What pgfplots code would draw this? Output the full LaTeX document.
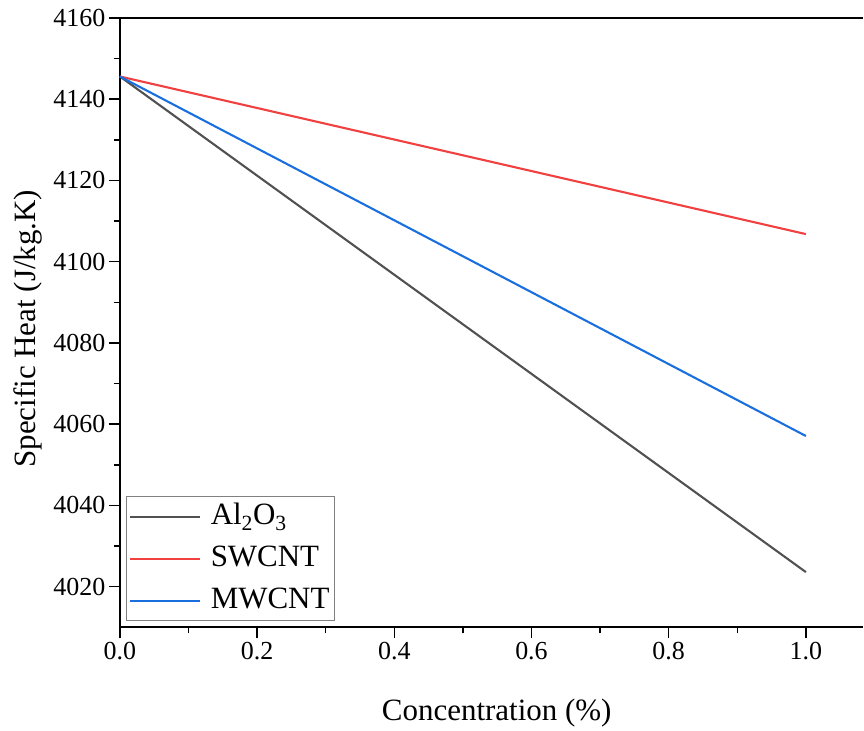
\documentclass[border=0pt]{standalone}
\usepackage{pgfplots}
\pgfplotsset{compat=1.18}
\usepackage{fontspec}
\setmainfont{Liberation Serif}

\definecolor{cgray}{HTML}{515151}
\definecolor{cred}{HTML}{F14040}
\definecolor{cblue}{HTML}{1A6FDF}

\begin{document}
\begin{tikzpicture}
  \begin{axis}[
      name=ax,
      scale only axis,
      width=744bp,height=610bp,
      xmin=0,xmax=1.0834,ymin=4010,ymax=4160,
      axis x line*=bottom,axis y line*=left,
      axis line style={line width=1.8bp},
      xtick={0,0.2,0.4,0.6,0.8,1},
      ytick={4020,4040,4060,4080,4100,4120,4140,4160},
      minor tick num=1,
      tick align=outside,
      major tick length=11bp,minor tick length=6bp,
      every tick/.style={line width=1.5bp,black},
      xticklabel style={/pgf/number format/fixed,/pgf/number format/fixed zerofill,/pgf/number format/precision=1},
      yticklabel style={/pgf/number format/set thousands separator={}},
      /pgf/number format/assume math mode=true,
      tick label style={font=\fontsize{26bp}{30bp}\selectfont},
      xlabel={Concentration (\%)},
      ylabel={Specific Heat (J/kg.K)},
      label style={font=\fontsize{31bp}{36bp}\selectfont},
      xlabel style={at={(axis description cs:0.507,-0.14)},anchor=center},
      ylabel style={at={(axis description cs:-0.124,0.49)},anchor=center,rotate=0},
      legend style={at={(axis description cs:0.008,0.0103)},anchor=south west,
        draw=gray,line width=0.9bp,font=\fontsize{31bp}{36bp}\selectfont,
        inner xsep=3bp,inner ysep=4bp,row sep=10bp,
        nodes={inner sep=1.5bp,text height=22bp,text depth=7bp}},
      legend cell align=left,
      legend image code/.code={\draw[#1,line width=2.1bp] (0bp,0bp) -- (70bp,0bp);},
      clip=false
    ]
    \addplot[color=cgray,line width=2.1bp] coordinates {(0,4145.6) (1,4023.6)};
    \addlegendentry{\hspace{8bp}Al\textsubscript{2}O\textsubscript{3}}
    \addplot[color=cred,line width=2.1bp] coordinates {(0,4145.6) (1,4106.8)};
    \addlegendentry{\hspace{8bp}SWCNT}
    \addplot[color=cblue,line width=2.1bp] coordinates {(0,4145.6) (1,4057.1)};
    \addlegendentry{\hspace{8bp}MWCNT}
    \draw[line width=1.8bp] (rel axis cs:0,1) -- (rel axis cs:1,1);
  \end{axis}
  \path ([xshift=-120bp,yshift=18bp]ax.north west) rectangle ([yshift=-103bp]ax.south east);
\end{tikzpicture}
\end{document}
